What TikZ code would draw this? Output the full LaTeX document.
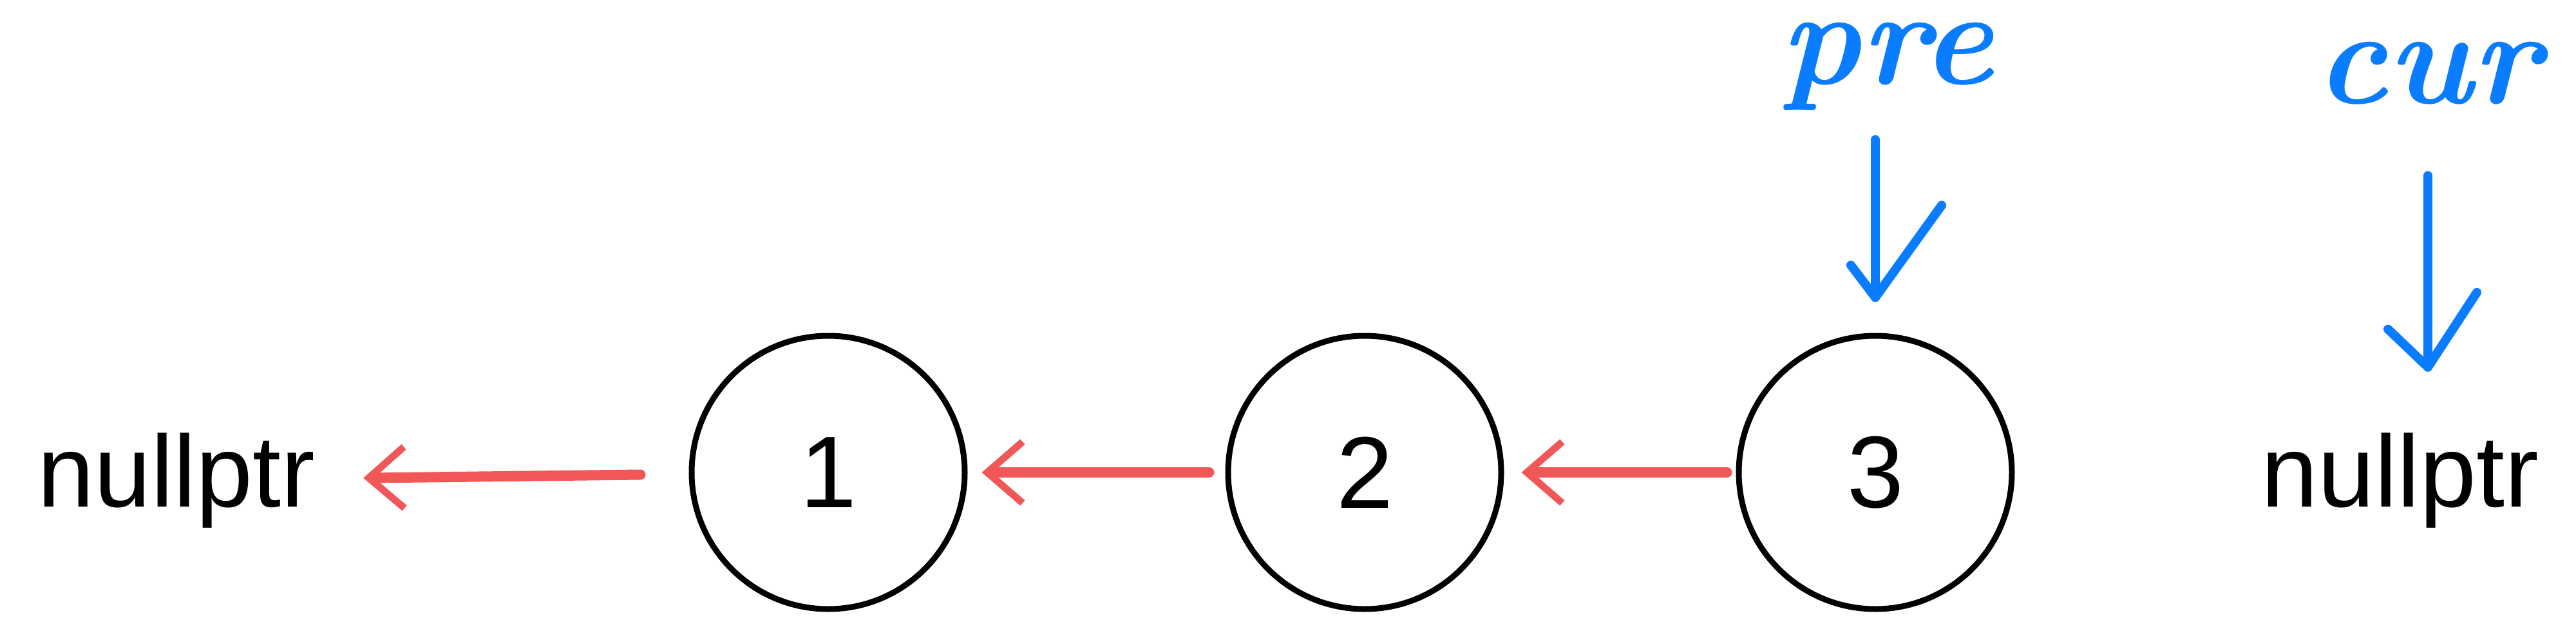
\documentclass[tikz,border=0pt]{standalone}
\usepackage{fontspec}
\usepackage{tikz}
\usetikzlibrary{positioning, arrows.meta}
\newfontfamily\arialfont{Liberation Sans}
\definecolor{LinkRed}{HTML}{F25757}
\definecolor{PtrBlue}{HTML}{0A7CFF}

\begin{document}
\begin{tikzpicture}[
    listnode/.style={circle, draw, line width=0.09cm, minimum size=4.24cm, inner sep=0pt, font=\arialfont\fontsize{45}{54}\selectfont},
    nulltext/.style={inner sep=0pt, font=\arialfont\fontsize{45}{54}\selectfont},
    ptrname/.style={inner sep=0pt, text=PtrBlue, font=\bfseries\itshape\fontsize{60}{72}\selectfont},
    nextlink/.style={LinkRed, line width=0.16cm, line cap=round, -{Straight Barb[length=0.55cm, width=0.95cm, line width=0.11cm]}},
    ptrline/.style={PtrBlue, line width=0.14cm, line cap=round, line join=round}
  ]
      \useasboundingbox (0,0) rectangle (40,-9.61);
      \node[listnode] (c1) at (12.86,-7.33) {1};
      \node[listnode, right=4.0cm of c1] (c2) {2};
      \node[listnode, right=3.6cm of c2] (c3) {3};
      \node[nulltext, anchor=base west] (nl) at (0.58,-7.86) {nullptr};
      \node[nulltext, anchor=base west] (nr) at (35.11,-7.86) {nullptr};
      \draw[nextlink, shorten <=0.75cm, shorten >=0.74cm] (c1) -- (nl);
      \draw[nextlink, shorten <=0.25cm, shorten >=0.22cm] (c2) -- (c1);
      \draw[nextlink, shorten <=0.14cm, shorten >=0.27cm] (c3) -- (c2);
      \node[ptrname, anchor=base] (pre) at (29.3,-1.3) {pre};
      \node[ptrname, anchor=base] (cur) at (37.7,-1.6) {cur};
      \coordinate[above=0.55cm of c3] (pretip);
      \path (nr.north -| cur.south) ++(0,1.01) coordinate (curtip);
      \draw[ptrline, shorten <=0.45cm] (pre.south -| pretip) -- (pretip);
      \draw[ptrline] (pretip) ++(-0.38,0.5) -- (pretip) -- ++(1.03,1.43);
      \draw[ptrline, shorten <=1.1cm] (cur.south) -- (curtip);
      \draw[ptrline] (curtip) ++(-0.62,0.59) -- (curtip) -- ++(0.76,1.16);
    \end{tikzpicture}
\end{document}
